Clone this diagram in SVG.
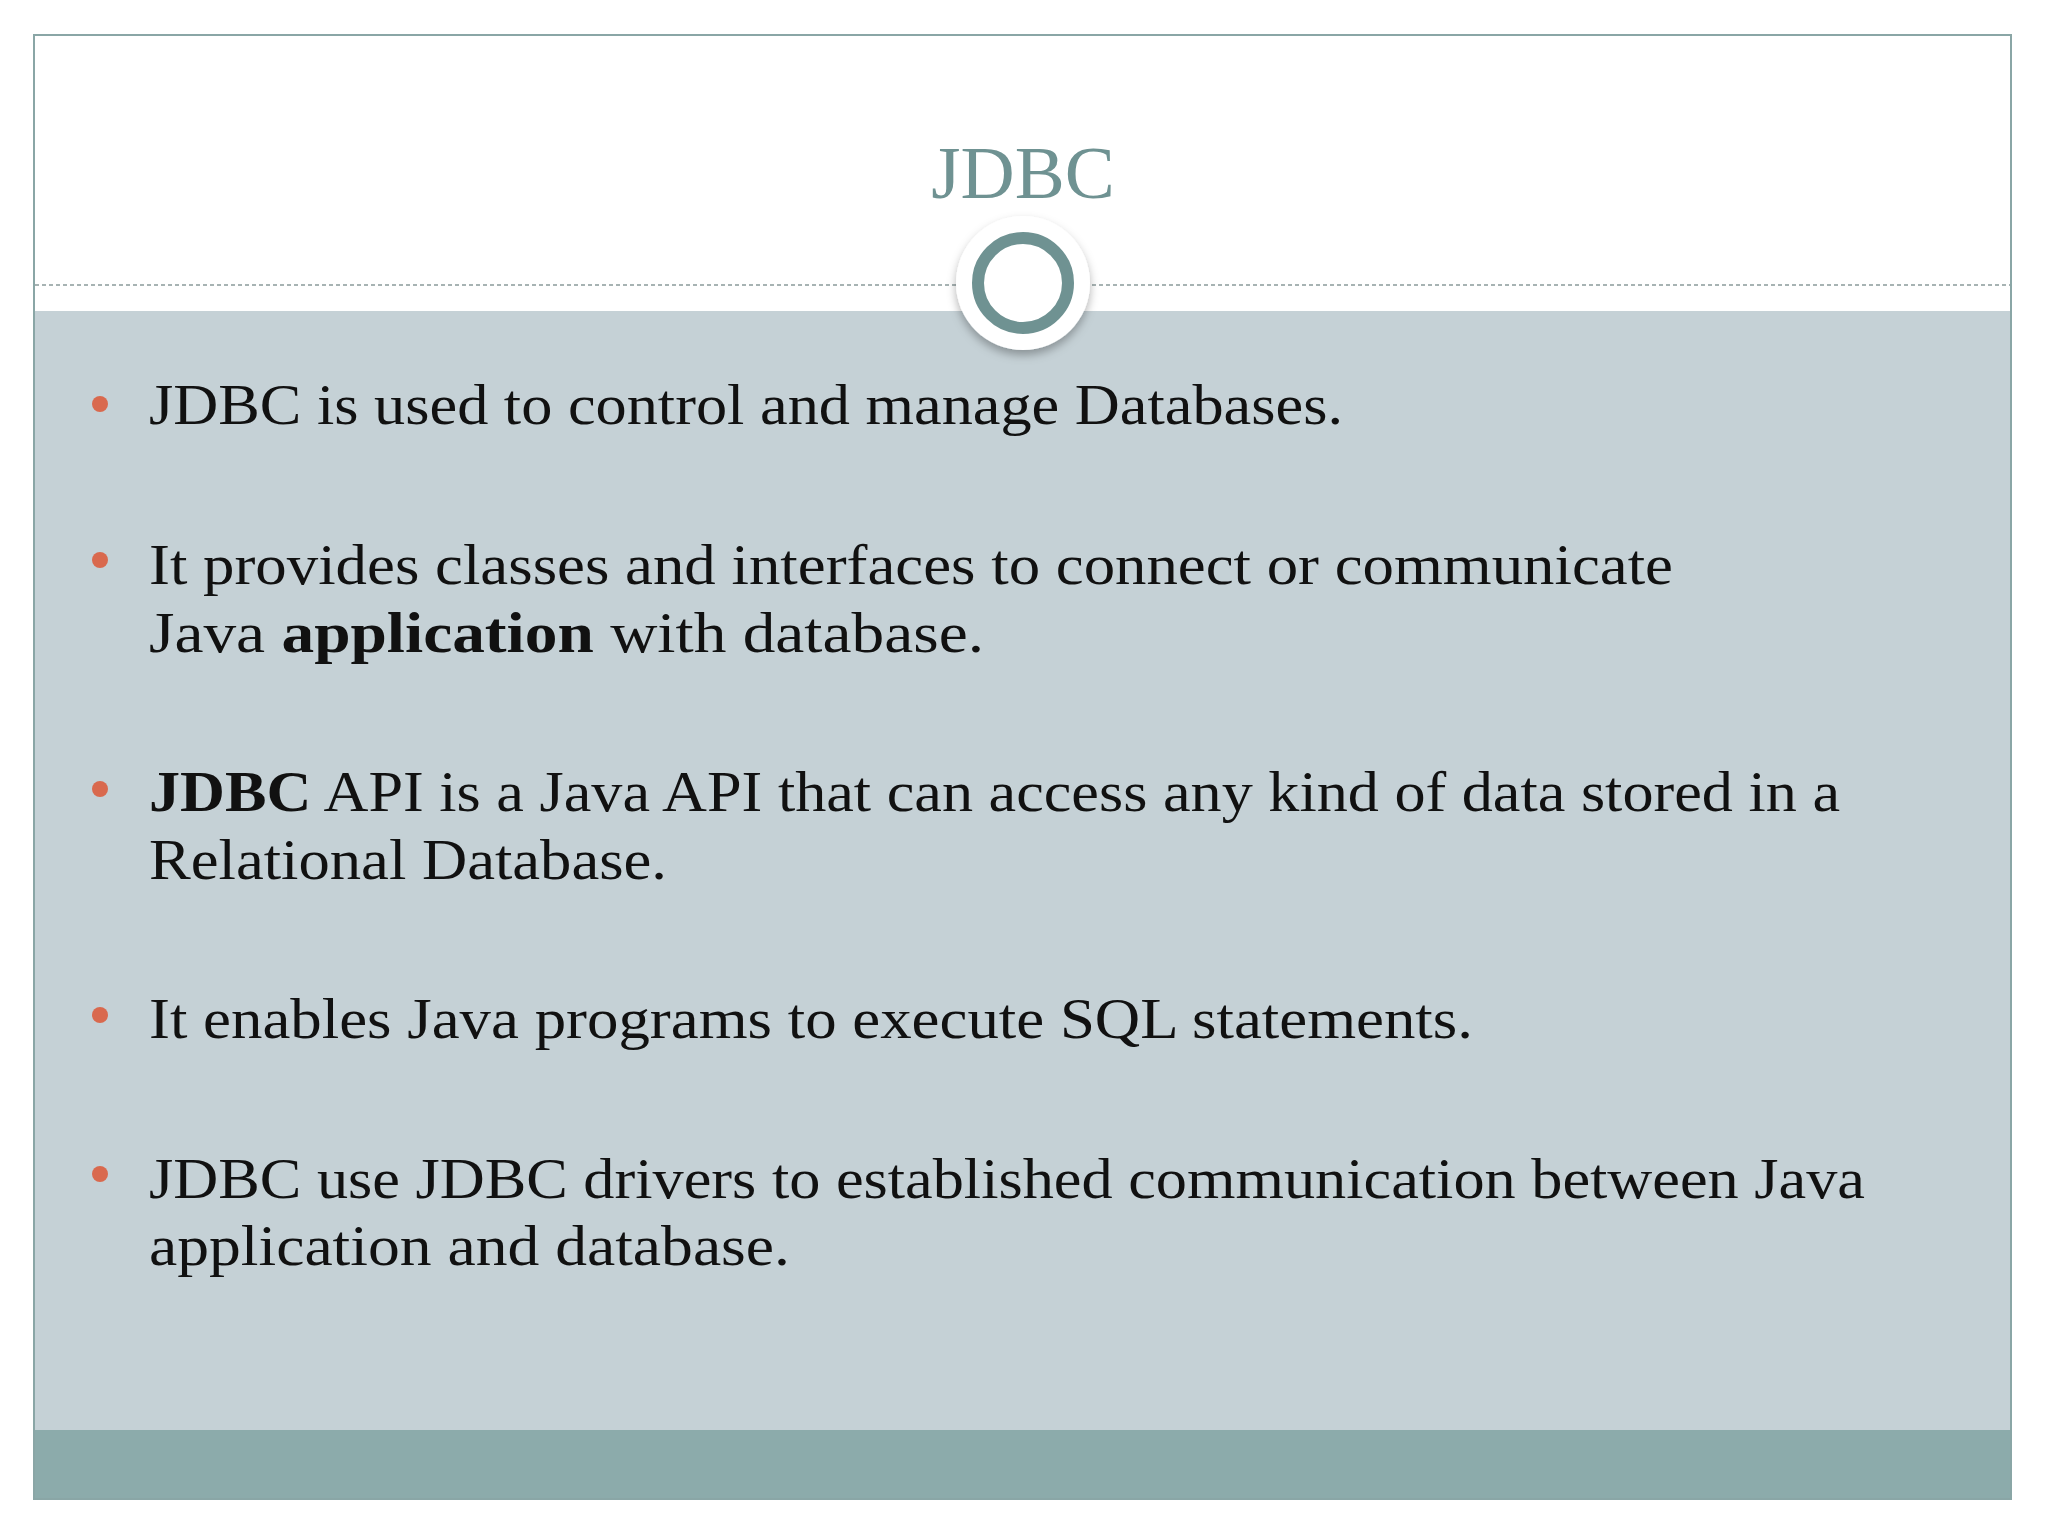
<svg xmlns="http://www.w3.org/2000/svg" width="2048" height="1536" viewBox="0 0 2048 1536">
<defs>
<style>
.t{font-family:"Liberation Serif","DejaVu Serif",serif;font-size:56px;fill:#111}
.b{font-weight:bold}
.dot{fill:#d9694e}
</style>
<filter id="sh" x="-30%" y="-30%" width="160%" height="170%"><feDropShadow dx="0" dy="5" stdDeviation="5" flood-color="#000" flood-opacity="0.3"/></filter>
</defs>
<rect x="0" y="0" width="2048" height="1536" fill="#fff"/>
<rect x="34" y="35" width="1977" height="1464" fill="#fff" stroke="#8aa6a6" stroke-width="2"/>
<rect x="35" y="311" width="1975" height="1119" fill="#c5d1d6"/>
<rect x="35" y="1430" width="1975" height="68" fill="#8cabab"/>
<line x1="35" y1="285" x2="2010" y2="285" stroke="#8a9a9a" stroke-width="1.5" stroke-dasharray="4,3"/>
<g id="title">
<text x="1023" y="198" text-anchor="middle" font-family="Liberation Serif,serif" font-size="75" fill="#6f9292">JDBC</text>
</g>
<g id="badge">
<circle cx="1023" cy="283" r="67" fill="#fff" filter="url(#sh)"/>
<circle cx="1023" cy="283" r="45" fill="#fff" stroke="#6f9292" stroke-width="12"/>
</g>
<g id="bullets">
<circle class="dot" cx="100" cy="404" r="8"/>
<circle class="dot" cx="100" cy="560" r="8"/>
<circle class="dot" cx="100" cy="789" r="8"/>
<circle class="dot" cx="100" cy="1015" r="8"/>
<circle class="dot" cx="100" cy="1174" r="8"/>
<text class="t" x="149" y="424" textLength="1194" lengthAdjust="spacingAndGlyphs">JDBC is used to control and manage Databases.</text>
<text class="t" x="149" y="584" textLength="1524" lengthAdjust="spacingAndGlyphs">It provides classes and interfaces to connect or communicate</text>
<text class="t" x="149" y="652" textLength="835" lengthAdjust="spacingAndGlyphs">Java <tspan class="b">application</tspan> with database.</text>
<text class="t" x="149" y="811" textLength="1691" lengthAdjust="spacingAndGlyphs"><tspan class="b">JDBC</tspan> API is a Java API that can access any kind of data stored in a</text>
<text class="t" x="149" y="879" textLength="518" lengthAdjust="spacingAndGlyphs">Relational Database.</text>
<text class="t" x="149" y="1038" textLength="1324" lengthAdjust="spacingAndGlyphs">It enables Java programs to execute SQL statements.</text>
<text class="t" x="149" y="1198" textLength="1716" lengthAdjust="spacingAndGlyphs">JDBC use JDBC drivers to established communication between Java</text>
<text class="t" x="149" y="1265" textLength="641" lengthAdjust="spacingAndGlyphs">application and database.</text>
</g>
</svg>
